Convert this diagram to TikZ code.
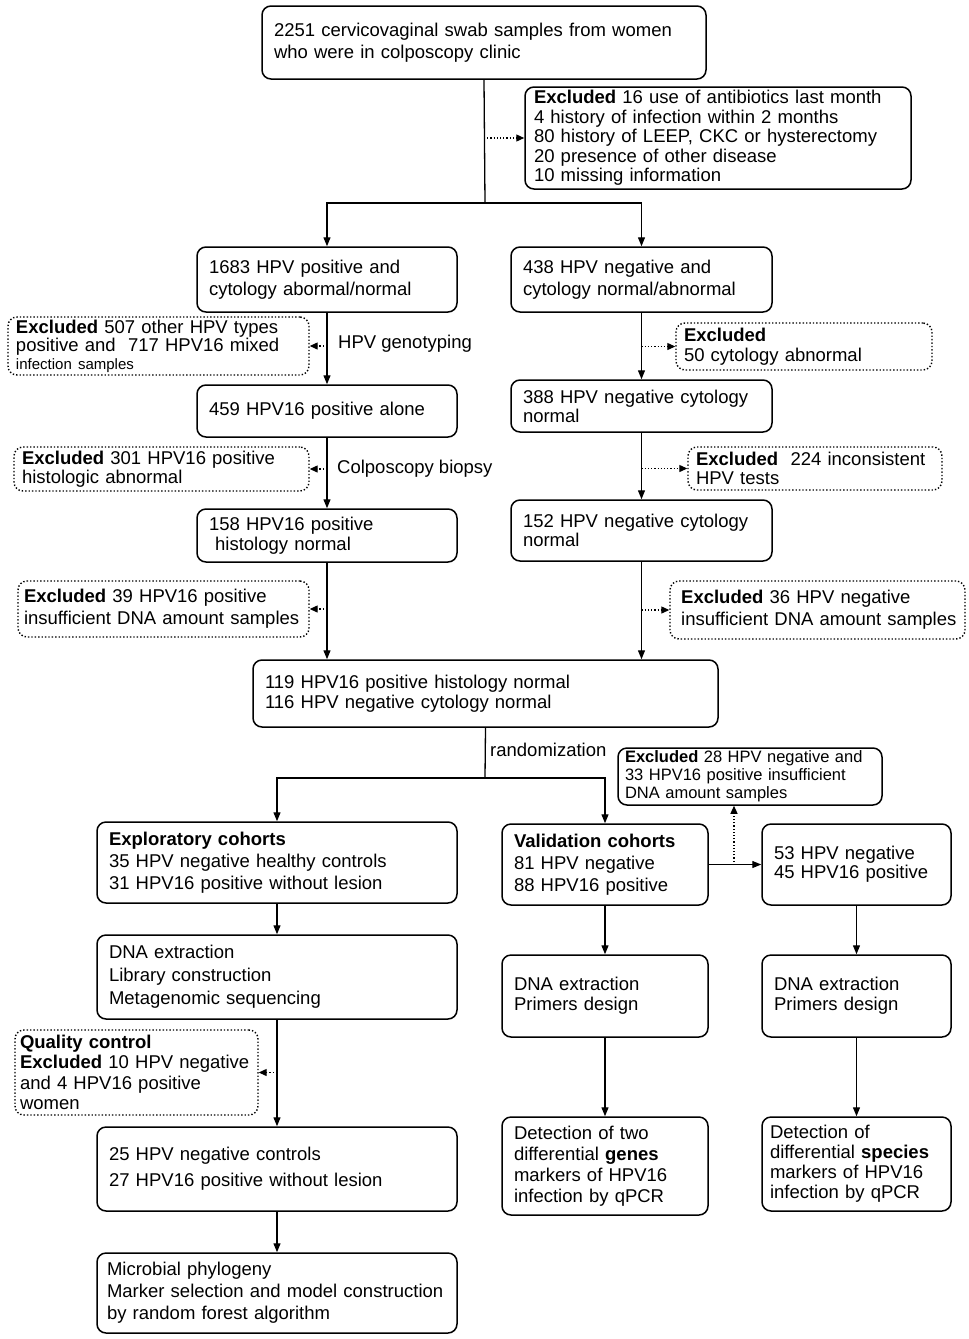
\documentclass[tikz,border=0pt]{standalone}
\usepackage{fontspec}
\setmainfont{Liberation Sans}
\usetikzlibrary{arrows.meta,calc}
\begin{document}
\begin{tikzpicture}[x=1pt,y=-1pt,
  every node/.style={font=\fontsize{18.5}{22}\selectfont},
  bx/.style={draw,line width=1.5pt,rounded corners=9pt,align=left,inner xsep=12pt,inner ysep=2pt},
  dx/.style={draw,line width=1.4pt,dotted,rounded corners=9pt,align=left,inner xsep=8pt,inner ysep=2pt},
  arr/.style={line width=1.3pt,-{Triangle[length=9pt,width=7pt]}},
  ln/.style={line width=1.3pt},
  darr/.style={line width=1.2pt,dotted,-{Triangle[length=8pt,width=7pt]}},
  lbl/.style={anchor=west,inner sep=0pt}]
\useasboundingbox (0,0) rectangle (969,1339);
% nodes
\node[bx,minimum width=444pt,minimum height=73pt,text width=420pt] (top) at (484,42.5) {2251 cervicovaginal swab samples from women\\who were in colposcopy clinic};
\node[bx,inner xsep=9pt,minimum width=386pt,minimum height=102pt,text width=368pt,font=\fontsize{18.5}{19.5}\selectfont] (ex1) at (718,138) {\textbf{Excluded} 16 use of antibiotics last month\\4 history of infection within 2 months\\80 history of LEEP, CKC or hysterectomy\\20 presence of other disease\\10 missing information};
\node[bx,minimum width=260pt,minimum height=65pt,text width=236pt] (b1683) at (327,279.5) {1683 HPV positive and\\cytology abormal/normal};
\node[bx,minimum width=261pt,minimum height=65pt,text width=237pt] (b438) at (641.5,279.5) {438 HPV negative and\\cytology normal/abnormal};
\node[dx,minimum width=301pt,minimum height=58pt,text width=285pt,font=\fontsize{18.5}{18}\selectfont] (ex507) at (158.5,346) {\textbf{Excluded} 507 other HPV types\\positive and\ \ 717 HPV16 mixed\\{\fontsize{15}{15}\selectfont infection samples}};
\node[dx,minimum width=256pt,minimum height=47pt,text width=240pt,font=\fontsize{18.5}{20}\selectfont] (ex50) at (804,346.5) {\textbf{Excluded}\\50 cytology abnormal};
\node[bx,minimum width=260pt,minimum height=52pt,text width=236pt] (b459) at (327,411) {459 HPV16 positive alone};
\node[bx,minimum width=261pt,minimum height=52pt,text width=237pt,font=\fontsize{18.5}{19}\selectfont] (b388) at (641.5,406) {388 HPV negative cytology\\normal};
\node[dx,minimum width=295pt,minimum height=44pt,text width=279pt,font=\fontsize{18.5}{19}\selectfont] (ex301) at (161.5,469) {\textbf{Excluded} 301 HPV16 positive\\histologic abnormal};
\node[dx,minimum width=254pt,minimum height=43pt,text width=238pt,font=\fontsize{18.5}{19}\selectfont] (ex224) at (815,468.5) {\textbf{Excluded}\ \ 224 inconsistent\\HPV tests};
\node[bx,minimum width=260pt,minimum height=53pt,text width=236pt,font=\fontsize{18.5}{20}\selectfont] (b158) at (327,535.5) {158 HPV16 positive\\\ histology normal};
\node[bx,minimum width=261pt,minimum height=61pt,text width=237pt,font=\fontsize{18.5}{19}\selectfont] (b152) at (641.5,530.5) {152 HPV negative cytology\\normal};
\node[dx,minimum width=291pt,minimum height=56pt,text width=279pt,inner xsep=6pt] (ex39) at (163.5,609) {\textbf{Excluded} 39 HPV16 positive\\insufficient DNA amount samples};
\node[dx,minimum width=295pt,minimum height=58pt,text width=285pt,inner xsep=5pt] (ex36) at (817.5,610) {\ \textbf{Excluded} 36 HPV negative\\\ insufficient DNA amount samples};
\node[bx,minimum width=465pt,minimum height=67pt,text width=441pt,font=\fontsize{18.5}{19.5}\selectfont] (b119) at (485.5,693.5) {119 HPV16 positive histology normal\\116 HPV negative cytology normal};
\node[bx,inner xsep=7pt,minimum width=264pt,minimum height=57pt,text width=250pt,font=\fontsize{16.5}{18}\selectfont] (ex28) at (750,776.5) {\textbf{Excluded} 28 HPV negative and\\33 HPV16 positive insufficient\\DNA amount samples};
\node[bx,minimum width=360pt,minimum height=81pt,text width=336pt] (expl) at (277,862.5) {\textbf{Exploratory cohorts}\\35 HPV negative healthy controls\\31 HPV16 positive without lesion};
\node[bx,minimum width=206pt,minimum height=81pt,text width=182pt] (valid) at (605,864.5) {\textbf{Validation cohorts}\\81 HPV negative\\88 HPV16 positive};
\node[bx,minimum width=189pt,minimum height=81pt,text width=165pt,font=\fontsize{18.5}{19}\selectfont] (b53) at (856.5,864.5) {53 HPV negative\\45 HPV16 positive};
\node[bx,minimum width=360pt,minimum height=84pt,text width=336pt,font=\fontsize{18.5}{23}\selectfont] (dna1) at (277,977) {DNA extraction\\Library construction\\Metagenomic sequencing};
\node[bx,minimum width=206pt,minimum height=82pt,text width=182pt,font=\fontsize{18.5}{20}\selectfont] (dna2) at (605,996) {DNA extraction\\Primers design};
\node[bx,minimum width=189pt,minimum height=82pt,text width=165pt,font=\fontsize{18.5}{20}\selectfont] (dna3) at (856.5,996) {DNA extraction\\Primers design};
\node[dx,inner xsep=5pt,minimum width=243pt,minimum height=85pt,text width=233pt,font=\fontsize{18.5}{20.5}\selectfont] (qc) at (136.5,1072.5) {\textbf{Quality control}\\\textbf{Excluded} 10 HPV negative\\and 4 HPV16 positive\\women};
\node[bx,minimum width=360pt,minimum height=84pt,text width=336pt,font=\fontsize{18.5}{26}\selectfont] (b25) at (277,1169) {25 HPV negative controls\\27 HPV16 positive without lesion};
\node[bx,minimum width=206pt,minimum height=98pt,text width=182pt,font=\fontsize{18.5}{21}\selectfont] (det2) at (605,1166) {Detection of two\\differential \textbf{genes}\\markers of HPV16\\infection by qPCR};
\node[bx,inner xsep=8pt,minimum width=189pt,minimum height=94pt,text width=173pt,font=\fontsize{18.5}{20}\selectfont] (det3) at (856.5,1164) {Detection of\\differential \textbf{species}\\markers of HPV16\\infection by qPCR};
\node[bx,inner xsep=10pt,minimum width=360pt,minimum height=80pt,text width=340pt] (micro) at (277,1293) {Microbial phylogeny\\Marker selection and model construction\\by random forest algorithm};
% coordinates
\coordinate (s1) at (485,203);
\coordinate (s2) at (485,778);
\coordinate (vb) at (734,865);
% connectors
\draw[ln] (top.south) -- (s1);
\draw[arr] (s1) -| (b1683.north);
\draw[arr] (s1) -| (b438.north);
\draw[darr] (top.south |- ex1.west) -- (ex1.west);
\draw[arr] (b1683) -- (b459);
\draw[darr] (b1683.south |- ex507.east) -- (ex507.east);
\node[lbl] (l1) at (338,344) {HPV genotyping};
\draw[arr] (b438) -- (b388);
\draw[darr] (b438.south |- ex50.west) -- (ex50.west);
\draw[arr] (b459) -- (b158);
\draw[darr] (b459.south |- ex301.east) -- (ex301.east);
\node[lbl] (l2) at (337,469) {Colposcopy biopsy};
\draw[arr] (b388) -- (b152);
\draw[darr] (b388.south |- ex224.west) -- (ex224.west);
\draw[arr] (b158.south) -- (b158.south |- b119.north);
\draw[darr] (b158.south |- ex39.east) -- (ex39.east);
\draw[arr] (b152.south) -- (b152.south |- b119.north);
\draw[darr] (b152.south |- ex36.west) -- (ex36.west);
\draw[ln] (b119.south) -- (s2);
\node[lbl] (l3) at (490,750) {randomization};
\draw[arr] (s2) -| (expl.north);
\draw[arr] (s2) -| (valid.north);
\draw[arr] (valid.east) -- (b53.west);
\draw[darr] (vb) -- (vb |- ex28.south);
\draw[arr] (expl) -- (dna1);
\draw[arr] (dna1) -- (b25);
\draw[darr] (dna1.south |- qc.east) -- (qc.east);
\draw[arr] (b25) -- (micro);
\draw[arr] (valid) -- (dna2);
\draw[arr] (dna2) -- (det2);
\draw[arr] (b53) -- (dna3);
\draw[arr] (dna3) -- (det3);
\end{tikzpicture}
\end{document}
